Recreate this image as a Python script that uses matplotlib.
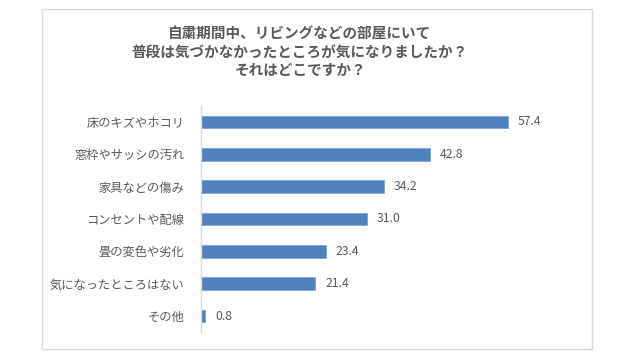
import matplotlib
matplotlib.use("Agg")
import matplotlib.pyplot as plt
from matplotlib.patches import Rectangle

plt.rcParams['font.family'] = ['Noto Sans CJK JP', 'DejaVu Sans']

categories = ["床のキズやホコリ", "窓枠やサッシの汚れ", "家具などの傷み", "コンセントや配線",
              "畳の変色や劣化", "気になったところはない", "その他"]
values = [57.4, 42.8, 34.2, 31.0, 23.4, 21.4, 0.8]
title = "自粛期間中、リビングなどの部屋にいて\n普段は気づかなかったところが気になりましたか？\nそれはどこですか？"

W, H = 640, 360
fig = plt.figure(figsize=(6.4, 3.6), dpi=100)
fig.patch.set_facecolor('white')

# chart frame
fig.patches.append(Rectangle((42 / W, 1 - 349 / H), (592 - 42) / W, (349 - 9) / H,
                             transform=fig.transFigure, fill=False,
                             edgecolor='#D9D9D9', linewidth=1.0))

ax_left, ax_w = 201, 361
ax_top, ax_bot = 105.8, 332.2
ax = fig.add_axes([ax_left / W, 1 - ax_bot / H, ax_w / W, (ax_bot - ax_top) / H])

ypos = list(range(len(categories)))
ax.barh(ypos, values, height=0.4, color='#4F81BD', edgecolor='#7FA3D3', linewidth=0.6)
ax.set_xlim(0, ax_w / 5.35)
ax.set_ylim(len(categories) - 0.5, -0.5)
ax.set_yticks(ypos)
ax.set_yticklabels(categories, fontsize=8.8, color='#595959')
ax.tick_params(axis='y', length=0, pad=12)
ax.set_xticks([])
for s in ['top', 'right', 'bottom']:
    ax.spines[s].set_visible(False)
ax.spines['left'].set_color('#D9D9D9')
ax.spines['left'].set_linewidth(1.0)

for y, v in zip(ypos, values):
    ax.annotate(f"{v:.1f}", (v, y), xytext=(7, 0), textcoords='offset points',
                ha='left', va='center', fontsize=8.8, color='#595959')

fig.text(300 / W, 1 - 51.5 / H, title, ha='center', va='center', fontsize=10.5,
         fontweight='bold', color='#595959', linespacing=1.15)

fig.savefig('out.png', dpi=100)
